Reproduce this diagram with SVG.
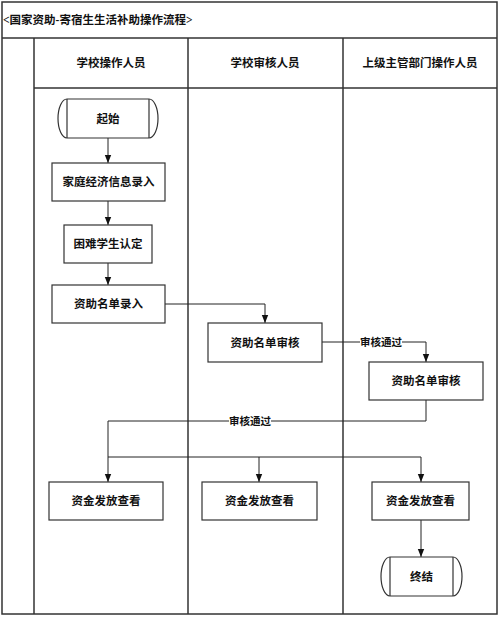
<svg xmlns="http://www.w3.org/2000/svg" width="500" height="617" viewBox="0 0 500 617">
<defs>
<marker id="arr" viewBox="0 0 8 8" refX="8" refY="4" markerWidth="8" markerHeight="8" markerUnits="userSpaceOnUse" orient="auto">
<path d="M0,0.8 L8,4 L0,7.2 Z" fill="#111"/>
</marker>
<style>
.frame{fill:none;stroke:#333;stroke-width:1.5}
.box{fill:#fff;stroke:#333;stroke-width:1.2}
.con{fill:none;stroke:#222;stroke-width:1}
.t{font-family:"Liberation Serif","Noto Sans CJK SC",serif;font-size:11.5px;font-weight:bold;fill:#111;text-anchor:middle;dominant-baseline:central}
.title{font-family:"Liberation Serif","Noto Sans CJK SC",serif;font-size:11.5px;font-weight:bold;fill:#111;dominant-baseline:central}
.lbl{font-family:"Liberation Serif","Noto Sans CJK SC",serif;font-size:10.5px;font-weight:bold;fill:#111;text-anchor:middle;dominant-baseline:central}
</style>
</defs>
<rect width="500" height="617" fill="#fff"/>
<g id="frame">
<rect class="frame" x="2" y="2" width="495" height="612"/>
<line class="frame" x1="2" y1="38" x2="497" y2="38"/>
<line class="frame" x1="34" y1="38" x2="34" y2="614"/>
<line class="frame" x1="34" y1="88" x2="497" y2="88"/>
<line class="frame" x1="188" y1="38" x2="188" y2="614"/>
<line class="frame" x1="343" y1="38" x2="343" y2="614"/>
<text class="title" x="3" y="20">&lt;国家资助-寄宿生生活补助操作流程&gt;</text>
<text class="t" x="111" y="63">学校操作人员</text>
<text class="t" x="265" y="63">学校审核人员</text>
<text class="t" x="420" y="63">上级主管部门操作人员</text>
</g>
<g id="connectors">
<line class="con" x1="108" y1="138" x2="108" y2="163" marker-end="url(#arr)"/>
<line class="con" x1="108" y1="201" x2="108" y2="225" marker-end="url(#arr)"/>
<line class="con" x1="108" y1="263" x2="108" y2="285" marker-end="url(#arr)"/>
<polyline class="con" points="165,304 265,304 265,323" marker-end="url(#arr)"/>
<polyline class="con" points="322,342 426,342 426,362" marker-end="url(#arr)"/>
<polyline class="con" points="426,400 426,421 108,421 108,482" marker-end="url(#arr)"/>
<polyline class="con" points="108,457 421,457 421,482" marker-end="url(#arr)"/>
<line class="con" x1="259" y1="457" x2="259" y2="482" marker-end="url(#arr)"/>
<line class="con" x1="421" y1="520" x2="421" y2="557" marker-end="url(#arr)"/>
<rect x="360" y="335" width="42" height="14" fill="#fff"/>
<text class="lbl" x="381" y="342">审核通过</text>
<rect x="229" y="414" width="42" height="14" fill="#fff"/>
<text class="lbl" x="250" y="421">审核通过</text>
</g>
<g id="start">
<path class="box" d="M67,99 L149,99 A9,19.5 0 0 1 149,138 L67,138 A9,19.5 0 0 1 67,99 Z"/>
<line class="box" x1="67" y1="99" x2="67" y2="138"/>
<line class="box" x1="149" y1="99" x2="149" y2="138"/>
<text class="t" x="108" y="118.5">起始</text>
</g>
<g id="n1">
<rect class="box" x="52" y="163" width="113" height="38"/>
<text class="t" x="108.5" y="182">家庭经济信息录入</text>
</g>
<g id="n2">
<rect class="box" x="64" y="225" width="88" height="38"/>
<text class="t" x="108" y="244">困难学生认定</text>
</g>
<g id="n3">
<rect class="box" x="52" y="285" width="113" height="38"/>
<text class="t" x="108.5" y="304">资助名单录入</text>
</g>
<g id="n4">
<rect class="box" x="208" y="323" width="114" height="39"/>
<text class="t" x="265" y="342.5">资助名单审核</text>
</g>
<g id="n5">
<rect class="box" x="369" y="362" width="114" height="38"/>
<text class="t" x="426" y="381">资助名单审核</text>
</g>
<g id="n6">
<rect class="box" x="49" y="482" width="114" height="38"/>
<text class="t" x="106" y="501">资金发放查看</text>
</g>
<g id="n7">
<rect class="box" x="202" y="482" width="115" height="38"/>
<text class="t" x="259.5" y="501">资金发放查看</text>
</g>
<g id="n8">
<rect class="box" x="372" y="482" width="97" height="38"/>
<text class="t" x="420.5" y="501">资金发放查看</text>
</g>
<g id="end">
<path class="box" d="M390,557 L453,557 A9,19.5 0 0 1 453,596 L390,596 A9,19.5 0 0 1 390,557 Z"/>
<line class="box" x1="390" y1="557" x2="390" y2="596"/>
<line class="box" x1="453" y1="557" x2="453" y2="596"/>
<text class="t" x="421.5" y="576.5">终结</text>
</g>
</svg>
